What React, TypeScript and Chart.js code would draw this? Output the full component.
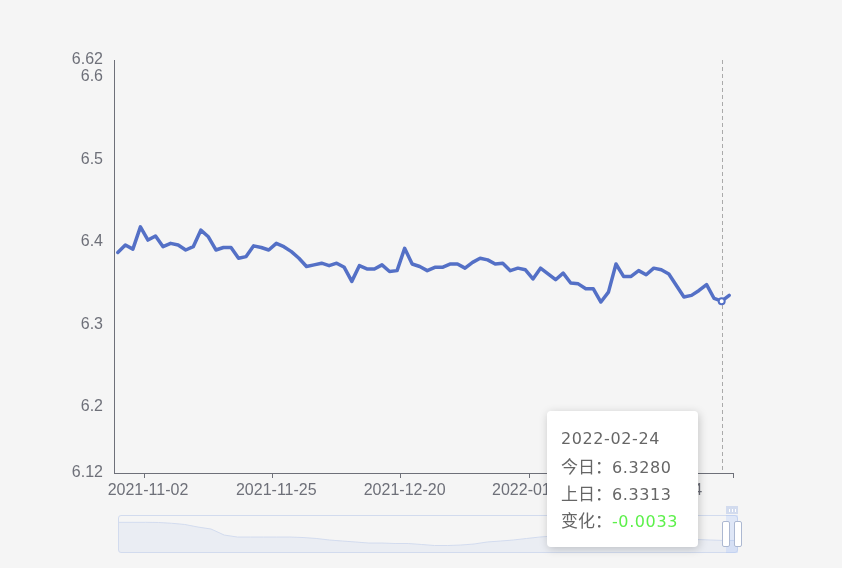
import { useEffect, useRef } from "react";
import { Chart, registerables } from "chart.js";

Chart.register(...registerables);

// trading days shown in the main window
const dates = [
  "2021-10-27", "2021-10-28", "2021-10-29", "2021-11-01", "2021-11-02", "2021-11-03", "2021-11-04", "2021-11-05",
  "2021-11-08", "2021-11-09", "2021-11-10", "2021-11-11", "2021-11-12", "2021-11-15", "2021-11-16", "2021-11-17",
  "2021-11-18", "2021-11-19", "2021-11-22", "2021-11-23", "2021-11-24", "2021-11-25", "2021-11-26", "2021-11-29",
  "2021-11-30", "2021-12-01", "2021-12-02", "2021-12-03", "2021-12-06", "2021-12-07", "2021-12-08", "2021-12-09",
  "2021-12-10", "2021-12-13", "2021-12-14", "2021-12-15", "2021-12-16", "2021-12-17", "2021-12-20", "2021-12-21",
  "2021-12-22", "2021-12-23", "2021-12-24", "2021-12-27", "2021-12-28", "2021-12-29", "2021-12-30", "2021-12-31",
  "2022-01-04", "2022-01-05", "2022-01-06", "2022-01-07", "2022-01-10", "2022-01-11", "2022-01-12", "2022-01-13",
  "2022-01-14", "2022-01-17", "2022-01-18", "2022-01-19", "2022-01-20", "2022-01-21", "2022-01-24", "2022-01-25",
  "2022-01-26", "2022-01-27", "2022-01-28", "2022-02-07", "2022-02-08", "2022-02-09", "2022-02-10", "2022-02-11",
  "2022-02-14", "2022-02-15", "2022-02-16", "2022-02-17", "2022-02-18", "2022-02-21", "2022-02-22", "2022-02-23",
  "2022-02-24", "2022-02-25",
];

const rates = [
  6.387, 6.396, 6.391, 6.418, 6.402, 6.407, 6.394, 6.398, 6.396, 6.39, 6.394, 6.414, 6.406, 6.39, 6.393, 6.393,
  6.38, 6.382, 6.395, 6.393, 6.39, 6.398, 6.394, 6.388, 6.38, 6.37, 6.372, 6.374, 6.371, 6.374, 6.369, 6.352,
  6.371, 6.367, 6.367, 6.372, 6.364, 6.365, 6.392, 6.373, 6.37, 6.365, 6.369, 6.369, 6.373, 6.373, 6.368, 6.375,
  6.38, 6.378, 6.373, 6.374, 6.365, 6.368, 6.366, 6.355, 6.368, 6.361, 6.354, 6.362, 6.35, 6.349, 6.343, 6.343,
  6.327, 6.339, 6.373, 6.358, 6.358, 6.365, 6.36, 6.368, 6.366, 6.361, 6.347, 6.333, 6.335, 6.341, 6.348, 6.3313,
  6.328, 6.335,
];

const shownDates = ["2021-11-02", "2021-11-25", "2021-12-20", "2022-01-13", "2022-02-14"];
const yTicks = [6.12, 6.2, 6.3, 6.4, 6.5, 6.6, 6.62];
const activeDate = "2022-02-24";

// long history drawn as the shadow in the zoom slider
const historyRates = [
  6.6, 6.6, 6.6, 6.598, 6.588, 6.573, 6.541, 6.516, 6.441, 6.416, 6.416, 6.416, 6.416, 6.416, 6.41, 6.398,
  6.379, 6.366, 6.354, 6.341, 6.341, 6.335, 6.335, 6.323, 6.31, 6.31, 6.316, 6.329, 6.354, 6.366, 6.379, 6.398,
  6.416, 6.429, 6.435, 6.441, 6.435, 6.429, 6.423, 6.416, 6.41, 6.404, 6.398, 6.391, 6.385, 6.379, 6.373, 6.373,
];
const zoomStart = 98.1;
const zoomEnd = 100;

const axisColor = "#6E7079";
const lineColor = "#5470c6";
const axisFont = { family: '"Liberation Sans", Arial, sans-serif', size: 16 };

const sliderLeft = 118;
const sliderTop = 515;
const sliderWidth = 620;
const sliderHeight = 38;

export default function App() {
  const mainRef = useRef<HTMLCanvasElement | null>(null);
  const shadowRef = useRef<HTMLCanvasElement | null>(null);
  const mainChart = useRef<Chart | null>(null);
  const shadowChart = useRef<Chart | null>(null);

  const activeIndex = dates.indexOf(activeDate);
  const today = rates[activeIndex];
  const prev = rates[activeIndex - 1];
  const change = today - prev;

  useEffect(() => {
    document.body.style.margin = "0";
    if (!mainRef.current || !shadowRef.current) return;

    const tickIdx = shownDates.map((d) => dates.indexOf(d));

    const pointerLine = {
      id: "pointerLine",
      beforeDatasetsDraw(chart: Chart) {
        const { ctx, chartArea, scales } = chart;
        const x = Math.round(scales.x.getPixelForValue(activeIndex)) + 0.5;
        ctx.save();
        ctx.strokeStyle = "#aaaaaa";
        ctx.lineWidth = 1;
        ctx.setLineDash([4, 3]);
        ctx.beginPath();
        ctx.moveTo(x, chartArea.top);
        ctx.lineTo(x, chartArea.bottom);
        ctx.stroke();
        ctx.restore();
      },
    };

    mainChart.current?.destroy();
    mainChart.current = new Chart(mainRef.current, {
      type: "line",
      data: {
        labels: dates,
        datasets: [
          {
            data: rates,
            borderColor: lineColor,
            borderWidth: 3.5,
            borderJoinStyle: "round",
            borderCapStyle: "round",
            tension: 0,
            pointRadius: (c: any) => (c.dataIndex === activeIndex ? 3 : 0),
            pointHoverRadius: 0,
            pointBorderWidth: 2,
            pointBorderColor: lineColor,
            pointBackgroundColor: "#ffffff",
          },
        ],
      },
      options: {
        animation: false,
        responsive: false,
        events: [],
        layout: { padding: { left: 0, right: 109, top: 60, bottom: 0 } },
        plugins: { legend: { display: false }, tooltip: { enabled: false } },
        scales: {
          x: {
            type: "category",
            offset: true,
            grid: {
              display: true,
              drawOnChartArea: false,
              drawTicks: true,
              tickLength: 5,
              offset: true,
              tickColor: (c: any) =>
                c.index === undefined || tickIdx.includes(c.index) ? axisColor : "rgba(0,0,0,0)",
            },
            border: { display: true, color: axisColor, width: 1 },
            ticks: {
              autoSkip: false,
              maxRotation: 0,
              minRotation: 0,
              padding: 3,
              color: axisColor,
              font: axisFont,
              callback: (_v: any, i: number) => (tickIdx.includes(i) ? dates[i] : ""),
            },
            afterFit: (s: any) => {
              s.height = 95;
            },
          },
          y: {
            min: 6.12,
            max: 6.62,
            grid: { display: false, drawTicks: false },
            border: { display: true, color: axisColor, width: 1 },
            ticks: {
              autoSkip: false,
              padding: 11,
              color: axisColor,
              font: axisFont,
              callback: (v: any) => String(Number(Number(v).toFixed(2))),
            },
            afterBuildTicks: (s: any) => {
              s.ticks = yTicks.map((v) => ({ value: v }));
            },
            afterFit: (s: any) => {
              s.width = 114;
            },
          },
        },
      },
      plugins: [pointerLine],
    });

    shadowChart.current?.destroy();
    shadowChart.current = new Chart(shadowRef.current, {
      type: "line",
      data: {
        labels: historyRates.map((_, i) => i),
        datasets: [
          {
            data: historyRates,
            borderColor: "#d2dbee",
            borderWidth: 1,
            backgroundColor: "rgba(210,219,238,0.3)",
            fill: "start",
            pointRadius: 0,
            tension: 0,
          },
        ],
      },
      options: {
        animation: false,
        responsive: false,
        events: [],
        layout: { padding: 0 },
        plugins: { legend: { display: false }, tooltip: { enabled: false } },
        scales: {
          x: { display: false },
          y: { display: false, min: 6.229, max: 6.679 },
        },
      },
    });

    return () => {
      mainChart.current?.destroy();
      shadowChart.current?.destroy();
      mainChart.current = null;
      shadowChart.current = null;
    };
  }, []);

  const winLeft = sliderLeft + (sliderWidth * zoomStart) / 100;
  const winRight = sliderLeft + (sliderWidth * zoomEnd) / 100;

  const handleStyle = (cx: number): React.CSSProperties => ({
    position: "absolute",
    left: cx - 4,
    top: 521,
    width: 6,
    height: 24,
    background: "#ffffff",
    border: "1px solid #acb8d1",
    borderRadius: 2,
  });

  const cjk: React.CSSProperties = {
    fontFamily: '"Noto Sans CJK SC", sans-serif',
    fontSize: 17,
    letterSpacing: 0,
    lineHeight: "27px",
  };
  const row: React.CSSProperties = { height: 27, overflow: "visible" };

  return (
    <div
      style={{
        position: "relative",
        width: 842,
        height: 568,
        background: "#f5f5f5",
        overflow: "hidden",
      }}
    >
      <canvas
        ref={mainRef}
        width={842}
        height={568}
        style={{ position: "absolute", left: 0, top: 0, display: "block" }}
      />
      {/* zoom slider */}
      <div
        style={{
          position: "absolute",
          left: sliderLeft,
          top: sliderTop,
          width: sliderWidth,
          height: sliderHeight,
          boxSizing: "border-box",
          border: "1px solid #d2dbee",
          borderRadius: 3,
        }}
      />
      <canvas
        ref={shadowRef}
        width={sliderWidth - 2}
        height={sliderHeight - 2}
        style={{ position: "absolute", left: sliderLeft + 1, top: sliderTop + 1, display: "block" }}
      />
      <div
        style={{
          position: "absolute",
          left: winLeft,
          top: sliderTop,
          width: winRight - winLeft,
          height: sliderHeight,
          background: "rgba(135,175,255,0.2)",
        }}
      />
      <div
        style={{
          position: "absolute",
          left: winLeft,
          top: 506,
          width: winRight - winLeft,
          height: 8,
          background: "#d2dbee",
          display: "flex",
          justifyContent: "center",
          alignItems: "center",
          gap: 2,
        }}
      >
        {[0, 1, 2].map((k) => (
          <div key={k} style={{ width: 1, height: 3, background: "#ffffff" }} />
        ))}
      </div>
      <div style={handleStyle(winLeft)} />
      <div style={handleStyle(winRight)} />
      {/* tooltip */}
      <div
        style={{
          position: "absolute",
          left: 547,
          top: 411,
          width: 151,
          height: 136,
          boxSizing: "border-box",
          padding: "14px",
          background: "#ffffff",
          borderRadius: 4,
          boxShadow: "rgba(0,0,0,0.2) 1px 2px 10px",
          color: "#666666",
          fontFamily: '"DejaVu Sans", "Noto Sans CJK SC", sans-serif',
          fontSize: 16,
          letterSpacing: 0.6,
          lineHeight: "27px",
          whiteSpace: "nowrap",
        }}
      >
        <div style={row}>{dates[activeIndex]}</div>
        <div style={row}>
          <span style={cjk}>今日：</span>
          {today.toFixed(4)}
        </div>
        <div style={row}>
          <span style={cjk}>上日：</span>
          {prev.toFixed(4)}
        </div>
        <div style={row}>
          <span style={cjk}>变化：</span>
          <span style={{ color: "#5cf04a" }}>{change.toFixed(4)}</span>
        </div>
      </div>
    </div>
  );
}
